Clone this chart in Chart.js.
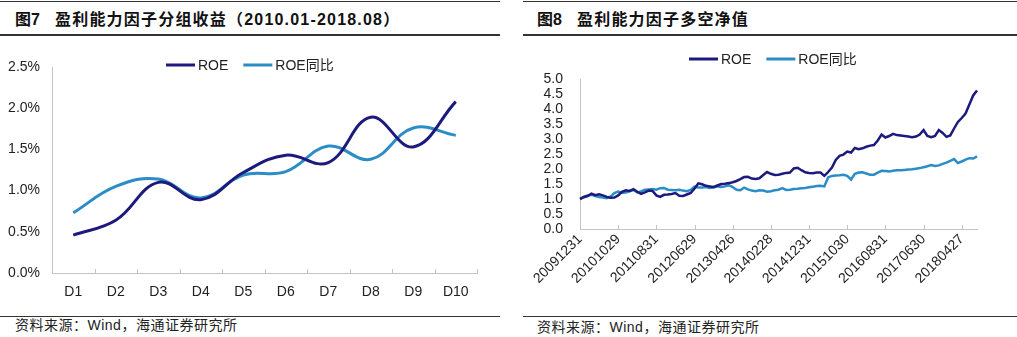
<!DOCTYPE html>
<html lang="zh-CN">
<head>
<meta charset="utf-8">
<title>盈利能力因子</title>
<script src="https://cdn.jsdelivr.net/npm/chart.js@4.4.1/dist/chart.umd.min.js"></script>
<style>
  html, body { margin: 0; padding: 0; background: #fff; }
  body { width: 1017px; height: 337px; position: relative; overflow: hidden;
         font-family: "Liberation Sans", "Noto Sans CJK SC", sans-serif; color: #222; }
  .rule { position: absolute; height: 0; border-top: 1px solid #333; }
  .rule.thick { border-top-width: 2px; }
  .title { position: absolute; top: 9px; font-family: "Liberation Sans", "Noto Sans CJK SC", sans-serif;
           font-weight: bold; font-size: 16px; line-height: 22px; letter-spacing: 1.2px; color: #111; white-space: nowrap; }
  .title .fig { display: inline-block; width: 40px; letter-spacing: 0; }
  .source { position: absolute; font-size: 14px; line-height: 18px; letter-spacing: 0.5px; color: #222; white-space: nowrap; }
  canvas { position: absolute; }
</style>
</head>
<body>
  <!-- left panel frame -->
  <div class="rule" style="left:0; width:500px; top:1px;"></div>
  <div class="title" style="left:15px;"><span class="fig">图7</span>盈利能力因子分组收益（2010.01-2018.08）</div>
  <div class="rule thick" style="left:0; width:500px; top:34px;"></div>
  <canvas id="groupChart" width="505" height="275" style="left:0; top:36px;"></canvas>
  <div class="rule" style="left:0; width:500px; top:316px;"></div>
  <div class="source" style="left:15px; top:316px;">资料来源：Wind，海通证券研究所</div>

  <!-- right panel frame -->
  <div class="rule" style="left:523px; width:494px; top:1px;"></div>
  <div class="title" style="left:537px;"><span class="fig">图8</span>盈利能力因子多空净值</div>
  <div class="rule thick" style="left:523px; width:494px; top:34px;"></div>
  <canvas id="navChart" width="507" height="280" style="left:510px; top:36px;"></canvas>
  <div class="rule" style="left:523px; width:494px; top:316px;"></div>
  <div class="source" style="left:537px; top:318px;">资料来源：Wind，海通证券研究所</div>

<script>
// --- data: group returns (%) by decile ---
const deciles = ['D1', 'D2', 'D3', 'D4', 'D5', 'D6', 'D7', 'D8', 'D9', 'D10'];
const groupRoe    = [0.46, 0.64, 1.10, 0.89, 1.22, 1.43, 1.34, 1.89, 1.53, 2.08];
const groupRoeYoy = [0.73, 1.05, 1.14, 0.91, 1.19, 1.23, 1.54, 1.38, 1.76, 1.67];

// --- data: long-short net value, monthly, one tick label every 10 months ---
const dateTicks = ['20091231', '20101029', '20110831', '20120629', '20130426', '20140228',
                   '20141231', '20151030', '20160831', '20170630', '20180427'];
const navRoe = [
  1.00, 1.06, 1.10, 1.18, 1.13, 1.16, 1.12, 1.07, 1.04, 1.05,
  1.12, 1.24, 1.29, 1.27, 1.33, 1.24, 1.17, 1.22, 1.28, 1.27,
  1.12, 1.07, 1.14, 1.15, 1.17, 1.20, 1.11, 1.10, 1.15, 1.20,
  1.35, 1.52, 1.49, 1.44, 1.42, 1.40, 1.45, 1.50, 1.51, 1.53,
  1.56, 1.60, 1.66, 1.73, 1.74, 1.68, 1.67, 1.69, 1.80, 1.90,
  1.84, 1.80, 1.81, 1.84, 1.87, 1.88, 2.02, 2.04, 1.96, 1.89,
  1.87, 1.86, 1.88, 1.88, 1.77, 1.90, 2.05, 2.30, 2.44, 2.48,
  2.58, 2.55, 2.70, 2.66, 2.69, 2.74, 2.78, 2.80, 2.95, 3.15,
  3.05, 3.10, 3.17, 3.13, 3.12, 3.10, 3.08, 3.06, 3.08, 3.15,
  3.30, 3.10, 3.06, 3.10, 3.30, 3.20, 3.07, 3.12, 3.35, 3.57,
  3.70, 3.85, 4.15, 4.45, 4.62
];
const navRoeYoy = [
  1.00, 1.08, 1.12, 1.14, 1.10, 1.07, 1.05, 1.03, 1.08, 1.20,
  1.25, 1.21, 1.22, 1.26, 1.30, 1.22, 1.25, 1.31, 1.32, 1.33,
  1.31, 1.36, 1.37, 1.31, 1.30, 1.29, 1.31, 1.28, 1.26, 1.30,
  1.41, 1.38, 1.38, 1.40, 1.37, 1.38, 1.42, 1.40, 1.42, 1.46,
  1.40, 1.31, 1.29, 1.38, 1.32, 1.28, 1.26, 1.29, 1.28, 1.24,
  1.26, 1.29, 1.31, 1.36, 1.30, 1.31, 1.33, 1.34, 1.36, 1.37,
  1.39, 1.41, 1.43, 1.44, 1.42, 1.72, 1.77, 1.78, 1.79, 1.81,
  1.77, 1.65, 1.84, 1.88, 1.89, 1.85, 1.81, 1.81, 1.88, 1.94,
  1.93, 1.92, 1.94, 1.96, 1.96, 1.97, 1.98, 1.99, 2.01, 2.03,
  2.06, 2.09, 2.13, 2.10, 2.12, 2.17, 2.21, 2.27, 2.33, 2.20,
  2.25, 2.31, 2.36, 2.35, 2.42
];

const seriesNames = ['ROE', 'ROE同比'];
const colorRoe = '#1c1a7c';
const colorYoy = '#2b8cc6';
const axisColor = '#c4c4c4';
const textColor = '#222';
const fontFamily = '"Liberation Sans", "Noto Sans CJK SC", sans-serif';

Chart.defaults.font.family = fontFamily;
Chart.defaults.color = textColor;

// month labels: only every 10th month carries a tick label
const monthLabels = navRoe.map((_, i) => (i % 10 === 0 ? dateTicks[i / 10] : ''));

// Excel-like extras: inward tick marks on the category axis + line legend
const decor = {
  id: 'decor',
  afterDraw(chart, args, opts) {
    const ctx = chart.ctx;
    const xs = chart.scales.x;
    const area = chart.chartArea;
    ctx.save();
    ctx.strokeStyle = axisColor;
    ctx.lineWidth = 1;
    opts.tickValues.forEach(v => {
      const px = Math.round(xs.getPixelForValue(v)) + 0.5;
      ctx.beginPath();
      ctx.moveTo(px, area.bottom);
      ctx.lineTo(px, area.bottom - 4);
      ctx.stroke();
    });

    ctx.font = '14px ' + fontFamily;
    ctx.textBaseline = 'middle';
    let lx = opts.legendX;
    chart.data.datasets.forEach(ds => {
      ctx.strokeStyle = ds.borderColor;
      ctx.lineWidth = 3;
      ctx.beginPath();
      ctx.moveTo(lx, opts.legendY);
      ctx.lineTo(lx + 29, opts.legendY);
      ctx.stroke();
      ctx.fillStyle = textColor;
      ctx.fillText(ds.label, lx + 32, opts.legendY + 1);
      lx += 32 + ctx.measureText(ds.label).width + 15;
    });
    ctx.restore();
  }
};

// --- chart 7: group returns ---
new Chart(document.getElementById('groupChart'), {
  type: 'line',
  data: {
    labels: deciles,
    datasets: [
      { label: seriesNames[0], data: groupRoe, borderColor: colorRoe, borderWidth: 3, pointRadius: 0, tension: 0.4 },
      { label: seriesNames[1], data: groupRoeYoy, borderColor: colorYoy, borderWidth: 3, pointRadius: 0, tension: 0.4 }
    ]
  },
  options: {
    responsive: false,
    animation: false,
    devicePixelRatio: 1,
    layout: { padding: { top: 31, right: 28, left: 0, bottom: 0 } },
    plugins: {
      legend: { display: false },
      tooltip: { enabled: false },
      decor: { tickValues: deciles.map((_, i) => i - 0.5).concat([deciles.length - 0.5]), legendX: 166, legendY: 29 }
    },
    scales: {
      x: {
        offset: true,
        grid: { display: false, drawTicks: false },
        border: { color: axisColor },
        ticks: { font: { size: 14 }, padding: 11, maxRotation: 0 },
        afterFit: s => { s.height = 38; }
      },
      y: {
        min: 0, max: 2.5,
        grid: { display: false, drawTicks: false },
        border: { color: axisColor },
        ticks: { stepSize: 0.5, font: { size: 14 }, padding: 12, callback: v => v.toFixed(1) + '%' },
        afterFit: s => { s.width = 52; }
      }
    }
  },
  plugins: [decor]
});

// --- chart 8: long-short net value ---
new Chart(document.getElementById('navChart'), {
  type: 'line',
  data: {
    labels: monthLabels,
    datasets: [
      { label: seriesNames[0], data: navRoe, borderColor: colorRoe, borderWidth: 2.5, pointRadius: 0, tension: 0 },
      { label: seriesNames[1], data: navRoeYoy, borderColor: colorYoy, borderWidth: 2.5, pointRadius: 0, tension: 0 }
    ]
  },
  options: {
    responsive: false,
    animation: false,
    devicePixelRatio: 1,
    layout: { padding: { top: 43, right: 40, left: 0, bottom: 0 } },
    plugins: {
      legend: { display: false },
      tooltip: { enabled: false },
      decor: { tickValues: dateTicks.map((_, i) => i * 10), legendX: 179, legendY: 23 }
    },
    scales: {
      x: {
        grid: { display: false, drawTicks: false },
        border: { color: axisColor },
        ticks: { autoSkip: false, minRotation: 45, maxRotation: 45, font: { size: 14 }, padding: 2,
                 callback: function (v) { return this.getLabelForValue(v); } },
        afterFit: s => { s.height = 87; }
      },
      y: {
        min: 0, max: 5,
        grid: { display: false, drawTicks: false },
        border: { color: axisColor },
        ticks: { stepSize: 0.5, autoSkip: false, font: { size: 14 }, padding: 17, callback: v => v.toFixed(1) },
        afterFit: s => { s.width = 70; }
      }
    }
  },
  plugins: [decor]
});
</script>
</body>
</html>
